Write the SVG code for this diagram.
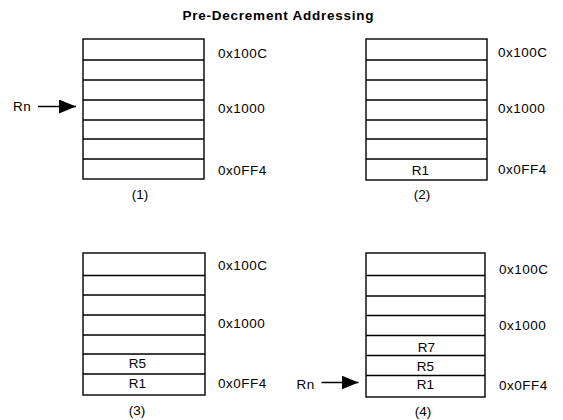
<svg xmlns="http://www.w3.org/2000/svg" width="563" height="420" viewBox="0 0 563 420">
<style>
text{font-family:"Liberation Sans",Arial,sans-serif;fill:#000}
.t{font-size:13.5px;font-weight:bold}
.a{font-size:13.5px;letter-spacing:0.5px}
.c{font-size:13.5px;text-anchor:middle}
.box{fill:#fff;stroke:#000;stroke-width:1.4}
.row{stroke:#000;stroke-width:1.3;fill:none}
.conn{stroke:#000;stroke-width:1.6;fill:none}
</style>
<defs>
<marker id="ah" markerWidth="18" markerHeight="14" refX="17" refY="7" orient="auto" markerUnits="userSpaceOnUse">
<path d="M0,0 L17,7 L0,14 Z" fill="#000"/>
</marker>
</defs>
<rect width="563" height="420" fill="#fff"/>
<text class="t" x="278" y="20" text-anchor="middle" textLength="191" lengthAdjust="spacing">Pre-Decrement Addressing</text>

<g id="panel1">
<rect class="box" x="83" y="39" width="121" height="140"/>
<path class="row" d="M83,60H204M83,80H204M83,100H204M83,120H204M83,139H204M83,159H204"/>
<text class="a" x="218" y="58">0x100C</text>
<text class="a" x="218" y="113">0x1000</text>
<text class="a" x="218" y="174.5">0x0FF4</text>
<text class="c" x="140" y="199">(1)</text>
</g>

<g id="panel2">
<rect class="box" x="366" y="39" width="121" height="141"/>
<path class="row" d="M366,60H487M366,80H487M366,100H487M366,120H487M366,139H487M366,159H487"/>
<text class="c" x="420.5" y="175">R1</text>
<text class="a" x="498" y="57">0x100C</text>
<text class="a" x="498" y="113">0x1000</text>
<text class="a" x="498" y="174">0x0FF4</text>
<text class="c" x="422" y="199">(2)</text>
</g>

<g id="panel3">
<rect class="box" x="83" y="253" width="122" height="142"/>
<path class="row" d="M83,275.5H205M83,295H205M83,315H205M83,335H205M83,354H205M83,374H205"/>
<text class="c" x="137.5" y="368">R5</text>
<text class="c" x="137.5" y="388">R1</text>
<text class="a" x="218" y="270">0x100C</text>
<text class="a" x="218" y="328">0x1000</text>
<text class="a" x="218" y="388">0x0FF4</text>
<text class="c" x="137" y="415">(3)</text>
</g>

<g id="panel4">
<rect class="box" x="366" y="253" width="119" height="144"/>
<path class="row" d="M366,275.5H485M366,296H485M366,315.5H485M366,335.5H485M366,355.5H485M366,375.5H485"/>
<text class="c" x="426.5" y="351.5">R7</text>
<text class="c" x="425.5" y="371">R5</text>
<text class="c" x="425.5" y="389">R1</text>
<text class="a" x="499" y="274">0x100C</text>
<text class="a" x="499" y="330">0x1000</text>
<text class="a" x="499" y="390">0x0FF4</text>
<text class="c" x="423" y="416">(4)</text>
</g>

<g id="rn1">
<text class="a" x="13" y="111" letter-spacing="0">Rn</text>
</g>
<g id="rn4">
<text class="a" x="296.5" y="388.5" letter-spacing="0">Rn</text>
</g>

<g id="connectors">
<line class="conn" x1="38" y1="106.5" x2="76" y2="106.5" marker-end="url(#ah)"/>
<line class="conn" x1="321.5" y1="382.5" x2="358.5" y2="382.5" marker-end="url(#ah)"/>
</g>
</svg>
